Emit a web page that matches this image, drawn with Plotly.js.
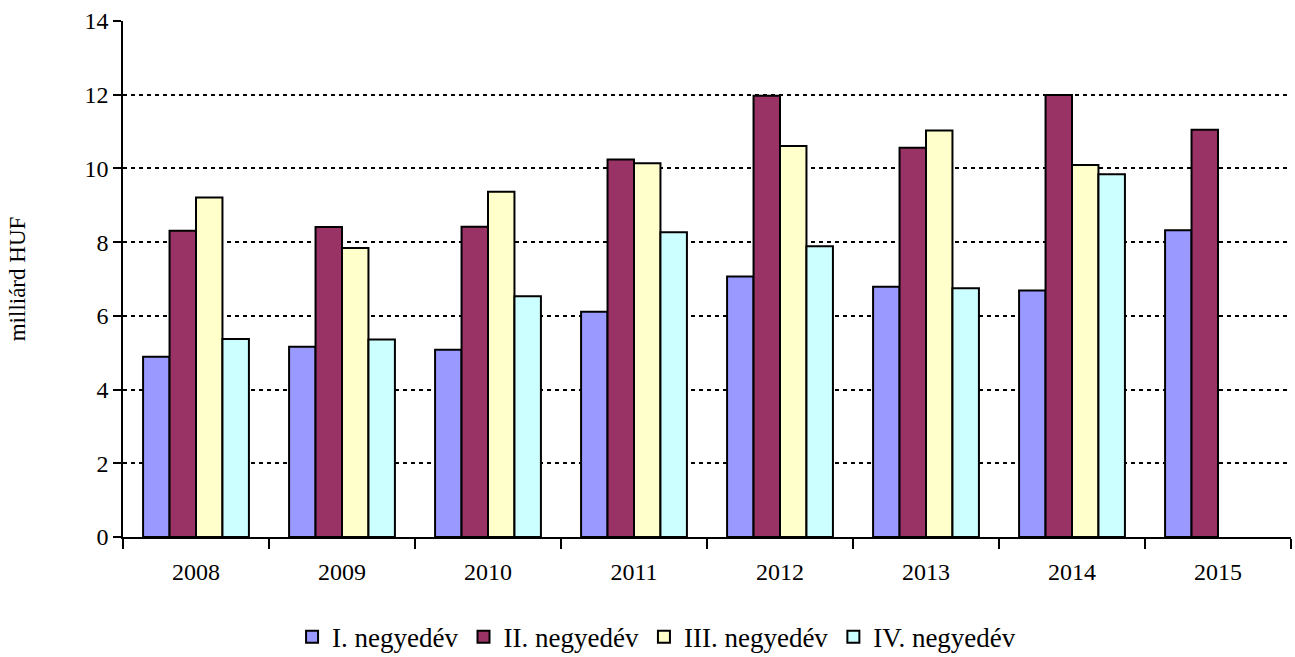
<!DOCTYPE html>
<html>
<head>
<meta charset="utf-8">
<script src="https://cdn.plot.ly/plotly-3.0.1.min.js"></script>
<style>html,body{margin:0;padding:0;background:#fff;}#chart{width:1295px;height:657px;}</style>
</head>
<body>
<div id="chart"></div>
<script>
var years = ['2008','2009','2010','2011','2012','2013','2014','2015'];
var seriesNames = ['I. negyedév','II. negyedév','III. negyedév','IV. negyedév'];
var q1 = [4.89, 5.16, 5.08, 6.11, 7.07, 6.79, 6.69, 8.32];
var q2 = [8.31, 8.41, 8.42, 10.24, 11.97, 10.56, 11.99, 11.05];
var q3 = [9.21, 7.84, 9.37, 10.14, 10.61, 11.03, 10.09, null];
var q4 = [5.37, 5.36, 6.53, 8.27, 7.89, 6.75, 9.84, null];
var yTicks = [0, 2, 4, 6, 8, 10, 12, 14];
var yTitle = 'milliárd HUF';

var colors = ['#9999FF', '#993366', '#FFFFCC', '#CCFFFF'];
var values = [q1, q2, q3, q4];
var font = 'Liberation Serif';

var traces = values.map(function (v, i) {
  return {
    type: 'bar',
    name: seriesNames[i],
    x: years,
    y: v,
    marker: { color: colors[i], line: { color: '#000', width: 2 } },
    hoverinfo: 'x+y+name'
  };
});

var layout = {
  width: 1295,
  height: 657,
  paper_bgcolor: '#fff',
  plot_bgcolor: '#fff',
  margin: { l: 123, r: 4, t: 21, b: 120, pad: 0 },
  barmode: 'group',
  bargap: 0.275,
  bargroupgap: 0,
  font: { family: font, size: 24, color: '#000' },
  showlegend: true,
  legend: {
    orientation: 'h',
    xref: 'container', yref: 'container',
    x: 0.507, xanchor: 'center',
    y: 0.03, yanchor: 'middle',
    font: { family: font, size: 27, color: '#000' },
    itemwidth: 30,
    traceorder: 'normal'
  },
  xaxis: {
    type: 'category',
    tickson: 'boundaries',
    ticks: 'outside',
    ticklen: 10,
    tickwidth: 1.5,
    tickcolor: '#000',
    showline: true,
    linecolor: '#000',
    linewidth: 1.5,
    showgrid: false,
    zeroline: false,
    ticklabelstandoff: 12,
    tickfont: { family: font, size: 24, color: '#000' },
    automargin: false
  },
  yaxis: {
    range: [0, 14],
    tickvals: yTicks,
    ticktext: yTicks.map(String),
    ticks: 'outside',
    ticklen: 8,
    tickwidth: 1.5,
    tickcolor: '#000',
    showline: true,
    linecolor: '#000',
    linewidth: 1.5,
    showgrid: true,
    gridcolor: '#000',
    gridwidth: 2,
    griddash: '4px,4px',
    zeroline: false,
    tickfont: { family: font, size: 24, color: '#000' },
    title: { text: yTitle, font: { family: font, size: 23, color: '#000' }, standoff: 52 },
    automargin: false
  }
};

Plotly.newPlot('chart', traces, layout, { displayModeBar: false });
</script>
</body>
</html>
